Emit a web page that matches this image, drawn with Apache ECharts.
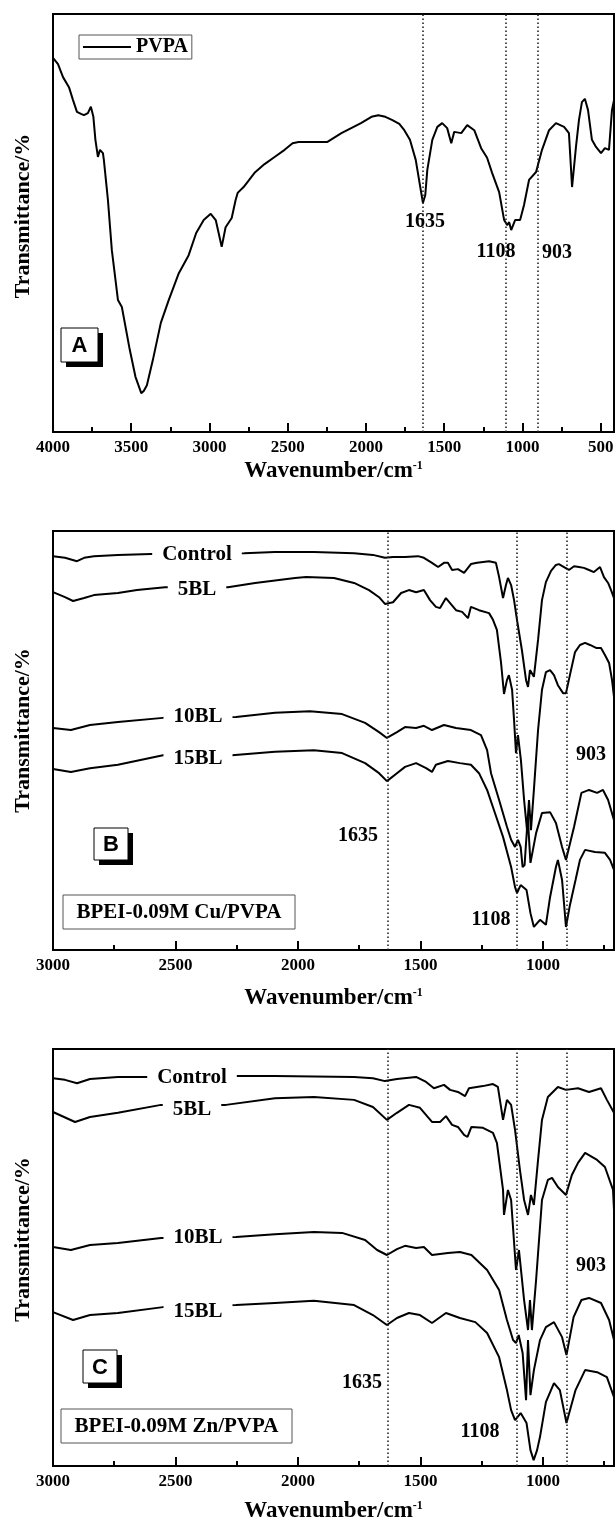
<!DOCTYPE html>
<html><head><meta charset="utf-8">
<script src="https://cdn.jsdelivr.net/npm/echarts@6/dist/echarts.min.js"></script>
<style>html,body{margin:0;padding:0;background:#fff}#c{width:616px;height:1520px}</style>
</head><body><div id="c"></div>
<script>
// ---- tick values ----
const majorTicksA = [4000, 3500, 3000, 2500, 2000, 1500, 1000, 500];
const minorTicksA = [3750, 3250, 2750, 2250, 1750, 1250, 750];
const majorTicksBC = [3000, 2500, 2000, 1500, 1000];
const minorTicksBC = [2750, 2250, 1750, 1250, 750];
const peakMarks = [1635, 1108, 903];

// ---- Panel A: PVPA  [wavenumber, transmittance (a.u.)] ----
const pvpa = [[4000,89.5],[3968,88.0],[3936,84.9],[3898,82.5],[3872,79.4],[3847,76.6],[3821,76.1],[3802,75.8],[3777,76.3],[3758,77.8],[3742,75.4],[3729,69.9],[3713,65.8],[3700,67.5],[3681,66.7],[3675,65.1],[3662,60.3],[3649,55.5],[3624,43.5],[3585,31.6],[3560,29.9],[3509,19.6],[3473,13.2],[3436,9.3],[3420,9.8],[3400,11.2],[3362,17.2],[3311,26.1],[3260,31.6],[3196,38.0],[3133,42.3],[3085,47.6],[3037,50.7],[2992,52.2],[2960,50.7],[2922,44.3],[2897,49.0],[2858,51.2],[2833,55.5],[2820,57.2],[2782,58.6],[2712,62.0],[2648,64.1],[2584,65.8],[2520,67.5],[2469,69.1],[2431,69.4],[2246,69.4],[2157,71.5],[2032,73.9],[1965,75.4],[1921,75.8],[1876,75.4],[1831,74.6],[1787,73.7],[1755,72.2],[1719,69.9],[1682,65.1],[1653,58.6],[1636,54.8],[1621,56.7],[1608,62.7],[1576,69.9],[1544,73.0],[1513,73.9],[1481,72.7],[1455,69.1],[1436,71.8],[1391,71.5],[1353,73.4],[1308,72.2],[1264,67.9],[1226,65.6],[1194,62.0],[1149,57.4],[1117,50.7],[1098,49.5],[1085,50.2],[1072,48.3],[1047,50.7],[1015,50.7],[990,54.3],[958,60.3],[913,62.2],[875,67.5],[830,72.2],[786,73.9],[734,73.0],[703,71.5],[683,58.6],[658,68.2],[639,74.6],[620,78.9],[601,79.7],[581,77.0],[556,69.9],[530,68.2],[498,66.7],[473,67.9],[447,67.5],[428,77.0],[415,79.4]];

// ---- Panel B: BPEI-0.09M Cu/PVPA ----
const cuControl = [[3000,94.0],[2951,93.6],[2902,92.8],[2873,93.6],[2833,94.0],[2735,94.3],[2600,94.5],[2400,94.6],[2220,94.7],[2094,95.0],[1935,95.0],[1771,94.7],[1694,94.3],[1645,93.6],[1612,93.8],[1563,93.8],[1510,94.0],[1486,93.6],[1453,92.4],[1428,91.4],[1404,92.4],[1388,92.4],[1371,90.7],[1347,90.9],[1322,90.0],[1306,91.2],[1294,92.1],[1269,92.4],[1220,92.8],[1192,92.4],[1179,89.0],[1163,84.0],[1151,87.1],[1143,88.8],[1130,87.1],[1118,83.5],[1106,78.8],[1086,71.6],[1069,64.4],[1061,62.8],[1053,66.8],[1037,65.2],[1020,74.0],[1004,83.5],[988,87.8],[967,90.5],[947,91.9],[935,92.1],[914,91.4],[894,90.7],[873,91.6],[853,91.4],[833,91.2],[812,90.7],[792,90.2],[767,91.4],[751,89.0],[734,87.6],[722,85.9],[710,84.0]];
const cu5BL = [[3000,85.4],[2951,84.2],[2918,83.3],[2873,84.0],[2833,84.7],[2735,85.2],[2657,85.9],[2543,86.6],[2286,86.6],[2175,87.6],[2012,88.8],[1967,89.0],[1853,88.8],[1771,87.6],[1710,85.9],[1669,84.2],[1645,82.6],[1612,83.0],[1579,85.2],[1547,85.9],[1518,85.4],[1486,85.9],[1461,83.5],[1437,81.9],[1420,81.6],[1396,84.0],[1379,82.8],[1355,81.1],[1330,80.7],[1306,79.2],[1294,81.9],[1261,81.1],[1220,80.4],[1204,78.8],[1188,76.4],[1171,68.5],[1159,61.1],[1147,64.4],[1139,65.6],[1126,62.1],[1118,54.9],[1110,47.0],[1102,51.3],[1090,45.3],[1077,35.8],[1065,28.6],[1057,35.8],[1049,28.6],[1037,38.2],[1020,52.5],[1004,62.1],[988,66.3],[971,66.8],[955,65.6],[939,63.2],[918,61.3],[906,61.3],[890,65.6],[869,71.1],[849,72.8],[828,73.3],[808,72.8],[783,72.1],[763,72.1],[747,70.4],[730,68.5],[718,64.4],[710,60.4]];
const cu10BL = [[3000,53.0],[2927,52.5],[2849,53.7],[2735,54.4],[2551,55.4],[2253,55.6],[2094,56.6],[1951,57.0],[1820,56.3],[1726,54.2],[1669,52.0],[1637,50.6],[1596,52.0],[1563,53.2],[1518,53.0],[1486,53.5],[1453,52.5],[1404,53.7],[1355,53.0],[1294,52.5],[1253,51.3],[1228,47.7],[1212,42.2],[1179,35.8],[1147,29.4],[1130,26.3],[1114,24.6],[1102,26.3],[1091,24.6],[1083,19.8],[1075,20.3],[1062,31.7],[1051,20.8],[1028,27.9],[1004,32.7],[971,32.9],[947,30.3],[922,24.6],[906,21.5],[873,29.4],[843,37.5],[812,38.2],[779,37.5],[755,38.2],[734,35.8],[710,31.0]];
const cu15BL = [[3000,43.2],[2927,42.5],[2849,43.4],[2735,44.2],[2551,46.5],[2269,46.5],[2094,47.3],[1935,47.7],[1820,47.0],[1726,44.6],[1669,42.2],[1637,40.3],[1596,42.2],[1563,43.7],[1518,44.6],[1477,43.4],[1453,42.5],[1437,44.2],[1388,45.1],[1339,44.6],[1294,44.2],[1261,42.2],[1228,38.2],[1196,32.7],[1163,27.0],[1130,19.8],[1114,15.0],[1106,13.6],[1091,15.5],[1067,14.3],[1051,8.8],[1037,5.5],[1012,7.2],[988,6.0],[971,12.6],[947,19.8],[939,21.5],[922,16.7],[906,5.5],[890,10.7],[867,16.7],[849,21.5],[828,23.9],[788,23.4],[747,23.2],[726,21.5],[710,19.1]];

// ---- Panel C: BPEI-0.09M Zn/PVPA ----
const znControl = [[3000,93.0],[2951,92.6],[2902,91.8],[2849,92.8],[2735,93.3],[2624,93.3],[2241,93.5],[2094,93.5],[1771,93.3],[1694,93.0],[1645,92.3],[1596,92.8],[1518,93.3],[1477,92.1],[1445,90.6],[1404,91.4],[1379,90.2],[1347,89.7],[1318,88.7],[1302,90.6],[1245,91.1],[1204,91.6],[1184,90.9],[1163,83.0],[1147,87.8],[1130,86.6],[1114,80.6],[1094,71.0],[1077,63.8],[1061,60.2],[1049,65.0],[1037,62.6],[1020,73.4],[1004,83.0],[980,88.5],[939,90.9],[906,90.2],[857,90.6],[812,89.7],[763,90.6],[739,87.8],[710,84.7]];
const zn5BL = [[3000,84.9],[2910,82.5],[2849,83.7],[2735,84.7],[2559,86.6],[2294,86.6],[2094,88.2],[1935,88.5],[1771,87.8],[1694,86.1],[1637,83.0],[1596,84.7],[1547,86.6],[1502,85.9],[1453,82.5],[1420,82.5],[1396,83.9],[1371,81.8],[1347,81.3],[1322,79.4],[1308,78.9],[1292,81.3],[1245,81.1],[1204,79.9],[1188,77.5],[1163,66.2],[1159,60.2],[1143,66.2],[1130,63.8],[1110,47.0],[1098,51.8],[1077,39.8],[1061,32.6],[1053,39.8],[1045,32.6],[1028,44.6],[1004,63.8],[980,68.6],[963,69.1],[939,66.9],[906,65.0],[882,69.8],[857,72.7],[828,75.1],[779,73.4],[747,71.7],[714,66.2],[710,61.4]];
const zn10BL = [[3000,52.5],[2927,51.8],[2849,53.0],[2735,53.5],[2559,54.7],[2253,54.9],[2094,55.6],[1935,56.1],[1820,55.9],[1726,54.2],[1677,51.8],[1637,50.6],[1596,52.0],[1563,52.8],[1518,52.3],[1486,52.5],[1453,50.6],[1388,51.1],[1339,51.3],[1292,50.6],[1228,47.0],[1179,42.2],[1147,35.0],[1122,30.2],[1110,29.5],[1099,31.4],[1083,27.1],[1069,15.8],[1061,30.2],[1051,17.0],[1037,23.0],[1012,30.2],[988,33.3],[955,34.5],[922,30.9],[904,26.6],[875,35.7],[843,39.8],[812,40.3],[763,39.1],[730,35.0],[710,30.2]];
const zn15BL = [[3000,36.9],[2918,35.0],[2849,36.2],[2735,36.7],[2551,38.1],[2253,38.6],[2094,39.1],[1935,39.6],[1771,38.6],[1694,36.2],[1637,33.8],[1596,35.5],[1547,36.7],[1502,36.2],[1453,34.3],[1396,36.7],[1339,35.5],[1276,34.5],[1228,31.9],[1179,26.1],[1147,18.2],[1130,13.4],[1114,11.0],[1091,12.7],[1067,10.3],[1051,3.8],[1038,1.4],[1024,3.8],[1012,7.0],[988,15.3],[955,19.9],[931,18.2],[904,10.3],[867,18.2],[828,23.0],[779,22.5],[739,21.3],[710,16.5]];

const SERIF = "'Liberation Serif','Times New Roman',serif";
const SANS = "'Liberation Sans',Arial,sans-serif";

const panels = [
  {top: 14, height: 418, min: 415, max: 4000, major: majorTicksA, minor: minorTicksA, nameGap: 28, yShift: 14,
   series: [['PVPA', pvpa]]},
  {top: 531, height: 419, min: 710, max: 3000, major: majorTicksBC, minor: minorTicksBC, nameGap: 37, yShift: 20,
   series: [['Control', cuControl], ['5BL', cu5BL], ['10BL', cu10BL], ['15BL', cu15BL]]},
  {top: 1049, height: 417, min: 710, max: 3000, major: majorTicksBC, minor: minorTicksBC, nameGap: 34, yShift: 36,
   series: [['Control', znControl], ['5BL', zn5BL], ['10BL', zn10BL], ['15BL', zn15BL]]}
];

const grid = [], xAxis = [], yAxis = [], series = [];
panels.forEach((p, g) => {
  grid.push({left: 53, top: p.top, width: 561, height: p.height, show: true, borderColor: '#000', borderWidth: 2,
    backgroundColor: 'transparent', containLabel: false, outerBoundsMode: 'none'});
  xAxis.push({
    type: 'value', gridIndex: g, min: p.min, max: p.max, inverse: true, position: 'bottom',
    axisLine: {show: true, lineStyle: {color: '#000', width: 2}},
    axisTick: {show: true, inside: true, length: 9, lineStyle: {color: '#000', width: 2}, customValues: p.major},
    axisLabel: {show: true, customValues: p.major, margin: 7, color: '#000', fontFamily: SERIF, fontWeight: 'bold', fontSize: 17,
      formatter: v => String(v)},
    splitLine: {show: false},
    name: '{t|Wavenumber/cm}{s|-1}', nameLocation: 'middle', nameGap: p.nameGap,
    nameTextStyle: {rich: {
      t: {fontFamily: SERIF, fontWeight: 'bold', fontSize: 23, color: '#000'},
      s: {fontFamily: SERIF, fontWeight: 'bold', fontSize: 12, color: '#000', verticalAlign: 'top'}
    }}
  });
  xAxis.push({
    type: 'value', gridIndex: g, min: p.min, max: p.max, inverse: true, position: 'bottom',
    axisLine: {show: false},
    axisTick: {show: true, inside: true, length: 5, lineStyle: {color: '#000', width: 2}, customValues: p.minor},
    axisLabel: {show: false}, splitLine: {show: false}
  });
  yAxis.push({
    type: 'value', gridIndex: g, min: 0, max: 100,
    axisLine: {show: false}, axisTick: {show: false}, axisLabel: {show: false}, splitLine: {show: false},
    name: 'Transmittance/%', nameLocation: 'middle', nameGap: 19, nameRotate: 90,
    nameTextStyle: {fontFamily: SERIF, fontWeight: 'bold', fontSize: 22, color: '#000', padding: [0, 0, 0, p.yShift]}
  });
  p.series.forEach(([name, data], i) => {
    const s = {
      type: 'line', name, xAxisIndex: 2 * g, yAxisIndex: g, data,
      showSymbol: false, symbol: 'none', smooth: false, z: 3,
      lineStyle: {color: '#000', width: 2}, itemStyle: {color: '#000'}
    };
    if (i === 0) {
      s.markLine = {silent: true, symbol: 'none', label: {show: false},
        lineStyle: {color: '#222', width: 1.6, type: [1.6, 2.4]},
        data: peakMarks.map(v => ({xAxis: v}))};
    }
    series.push(s);
  });
});

function txt(x, y, text, size, opts) {
  return Object.assign({type: 'text', x, y, z: 100, style: Object.assign({
    text, fontFamily: SERIF, fontWeight: 'bold', fontSize: size, fill: '#000', align: 'center', verticalAlign: 'middle'
  }, opts || {})});
}
function labelBox(x, y, w, h, letter) {
  return [
    {type: 'rect', z: 100, shape: {x: x + 5, y: y + 5, width: w, height: h}, style: {fill: '#000'}},
    {type: 'rect', z: 101, shape: {x, y, width: w, height: h}, style: {fill: '#fff', stroke: '#000', lineWidth: 1}},
    {type: 'text', z: 102, x: x + w / 2, y: y + h / 2 + 1, style: {text: letter, fontFamily: SANS, fontWeight: 'bold', fontSize: 22, fill: '#000', align: 'center', verticalAlign: 'middle'}}
  ];
}
function sampleBox(x, y, w, h, text) {
  return [
    {type: 'rect', z: 100, shape: {x, y, width: w, height: h}, style: {fill: '#fff', stroke: '#555', lineWidth: 1}},
    txt(x + w / 2, y + h / 2 + 1, text, 21)
  ];
}
const wb = {backgroundColor: '#fff', padding: [1, 10]};
const graphic = [].concat(
  labelBox(61, 328, 37, 34, 'A'),
  [txt(425, 222, '1635', 20), txt(496, 252, '1108', 20), txt(557, 253, '903', 20)],
  labelBox(94, 828, 34, 32, 'B'),
  sampleBox(63, 895, 232, 34, 'BPEI-0.09M Cu/PVPA'),
  [txt(197, 555, 'Control', 21, wb), txt(197, 590, '5BL', 21, wb), txt(198, 717, '10BL', 21, wb), txt(198, 759, '15BL', 21, wb),
   txt(358, 836, '1635', 20), txt(591, 755, '903', 20), txt(491, 920, '1108', 20)],
  labelBox(83, 1350, 34, 33, 'C'),
  sampleBox(61, 1409, 231, 34, 'BPEI-0.09M Zn/PVPA'),
  [txt(192, 1078, 'Control', 21, wb), txt(192, 1110, '5BL', 21, wb), txt(198, 1238, '10BL', 21, wb), txt(198, 1312, '15BL', 21, wb),
   txt(362, 1383, '1635', 20), txt(480, 1432, '1108', 20), txt(591, 1266, '903', 20)]
);

const chart = echarts.init(document.getElementById('c'), null, {renderer: 'canvas'});
chart.setOption({
  animation: false,
  backgroundColor: '#fff',
  grid, xAxis, yAxis, series, graphic,
  legend: {
    data: ['PVPA'], left: 79, top: 35, icon: 'rect', itemWidth: 48, itemHeight: 2,
    padding: [2, 4, 2, 4], borderColor: '#555', borderWidth: 1, backgroundColor: '#fff',
    selectedMode: false,
    textStyle: {fontFamily: SERIF, fontWeight: 'bold', fontSize: 20, color: '#000'}
  }
});
</script></body></html>
